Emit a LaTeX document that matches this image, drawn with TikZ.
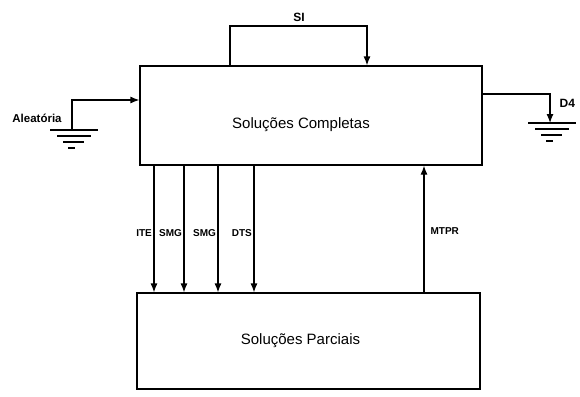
\documentclass[tikz,border=0pt]{standalone}
\usepackage{fontspec}
\setmainfont{Liberation Sans}
\usetikzlibrary{arrows.meta}

\begin{document}
\begin{tikzpicture}[x=1pt,y=-1pt,>={Latex[length=9pt,width=7pt]},line width=1.2pt,
    bloco/.style={draw,inner sep=0pt},
    texto/.style={font=\fontsize{15}{18}\selectfont},
    rotulo/.style={font=\bfseries\fontsize{10}{12}\selectfont,inner sep=2pt},
    terra/.pic={\draw (-22,0) -- (26,0) (-15,6) -- (19,6) (-9,12) -- (12,12) (-4,18) -- (3,18);}]
    \useasboundingbox (0,0) rectangle (580,396);

    \node[bloco,minimum width=342pt,minimum height=99pt,
        label={[texto,xshift=-10pt,yshift=-9pt]center:Soluções Completas}] (compl) at (311,115.5) {};
    \node[bloco,minimum width=343pt,minimum height=96pt,
        label={[texto,xshift=-8pt]center:Soluções Parciais}] (parc) at (308.5,341) {};

    % entrada aleatoria
    \coordinate (ga) at (72,130);
    \coordinate (ga1) at (72,100);
    \pic at (ga) {terra};
    \node[rotulo,font=\bfseries\fontsize{11.5}{13}\selectfont] (alea) at (37,118) {Aleatória};
    \draw[->] (ga) -- (ga1) -- (compl.west |- ga1);

    % laco SI
    \coordinate (si1) at (230,26);
    \coordinate (si2) at (367,26);
    \draw[->] (compl.north -| si1) -- (si1) -- (si2) -- (compl.north -| si2);
    \node[rotulo,font=\bfseries\fontsize{12}{14}\selectfont] (si) at (299,17) {SI};

    % saida D4
    \coordinate (gd) at (550,123);
    \coordinate (gd1) at (550,94);
    \pic at (gd) {terra};
    \draw[->] (compl.east |- gd1) -- (gd1) -- (gd);
    \node[rotulo,font=\bfseries\fontsize{12}{14}\selectfont,anchor=west] (d4) at (557,103) {D4};

    % completas -> parciais
    \foreach \x/\txt in {154/ITE,184/SMG,218/SMG,254/DTS}{
        \coordinate (c\x) at (\x,0);
        \draw[->] (compl.south -| c\x) -- node[rotulo,left,pos=0.53,inner sep=1.5pt] {\txt} (parc.north -| c\x);
    }

    % parciais -> completas
    \coordinate (m) at (424,0);
    \draw[->] (parc.north -| m) -- node[rotulo,right,pos=0.48,xshift=4pt] {MTPR} (compl.south -| m);
\end{tikzpicture}
\end{document}
